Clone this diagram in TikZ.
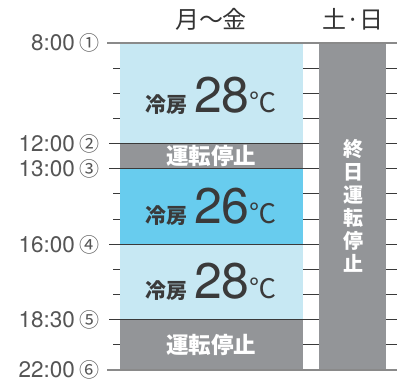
\documentclass[tikz,border=0pt]{standalone}
\usepackage{fontspec}
\setmainfont{TeX Gyre Heros}
\newfontfamily\jpfont{Noto Sans CJK JP}
\usetikzlibrary{positioning}

\definecolor{coolpale}{HTML}{C7E8F3}
\definecolor{coolmid}{HTML}{68CCEE}
\definecolor{offgray}{HTML}{939598}
\definecolor{labelgray}{HTML}{555555}
\definecolor{inkdark}{HTML}{3A3A3A}
\definecolor{rulegray}{HTML}{8A8A8A}

\begin{document}
\begin{tikzpicture}[
		x=1pt, y=-1pt,
		hourline/.style={
			draw=inkdark,
			line width=0.9pt
		},
		edgeline/.style={
			draw=rulegray,
			line width=2pt
		},
		timelabel/.style={
			anchor=base east,
			inner sep=0pt,
			text=labelgray,
			font=\fontsize{22.5}{22.5}\selectfont
		},
		headlabel/.style={
			inner sep=0pt,
			text=black!80,
			font=\jpfont\fontsize{24}{24}\selectfont
		},
		coollabel/.style={
			anchor=base,
			inner sep=0pt,
			text=inkdark
		},
		stoplabel/.style={
			inner sep=0pt,
			text=white,
			font=\jpfont\bfseries\fontsize{22.5}{22.5}\selectfont
		}
		]
		
		\useasboundingbox (0,0) rectangle (397,379);
		
		% row lines
		\foreach \k in {1,2,3,6,7,9,10,12}
			\draw[hourline] (113,{43+25.15*\k}) -- (397,{43+25.15*\k});
		\foreach \k in {4,5,8,11}
			\draw[hourline] (109,{43+25.15*\k}) -- (397,{43+25.15*\k});
		
		% weekday blocks
		\fill[coolpale] (120,43) rectangle (303,{43+25.15*4});
		\fill[offgray] (120,{43+25.15*4}) rectangle (303,{43+25.15*5});
		\fill[coolmid] (120,{43+25.15*5}) rectangle (303,{43+25.15*8});
		\fill[coolpale] (120,{43+25.15*8}) rectangle (303,{43+25.15*11});
		\fill[offgray] (120,{43+25.15*11}) rectangle (303,370);
		\foreach \k in {4,5,8,11}
			\draw[hourline] (120,{43+25.15*\k}) -- (303,{43+25.15*\k});
		
		% weekend block
		\fill[offgray] (319,43) rectangle (386,370);
		
		\draw[edgeline] (107,43) -- (397,43);
		\draw[edgeline] (107,370) -- (397,370);
		
		% headers
		\node[headlabel] (wkday) at (211,19) {月〜金};
		\node[headlabel] (wkend) at (353,19) {土·日};
		
		% times
		\node[timelabel] (t1) at (100,{43+8}) {8:00\hspace{5pt}{\jpfont\fontsize{20}{20}\selectfont ①}};
		\node[timelabel] (t2) at (100,{43+25.15*4+8}) {12:00\hspace{5pt}{\jpfont\fontsize{20}{20}\selectfont ②}};
		\node[timelabel] (t3) at (100,{43+25.15*5+8}) {13:00\hspace{5pt}{\jpfont\fontsize{20}{20}\selectfont ③}};
		\node[timelabel] (t4) at (100,{43+25.15*8+8}) {16:00\hspace{5pt}{\jpfont\fontsize{20}{20}\selectfont ④}};
		\node[timelabel] (t5) at (100,{43+25.15*11+8}) {18:30\hspace{5pt}{\jpfont\fontsize{20}{20}\selectfont ⑤}};
		\node[timelabel] (t6) at (100,{370+8}) {22:00\hspace{5pt}{\jpfont\fontsize{20}{20}\selectfont ⑥}};
		
		% block texts
		\node[coollabel] (cool1) at (211,113) {{\jpfont\bfseries\fontsize{21}{21}\selectfont 冷房}\hspace{7pt}{\fontsize{50}{50}\selectfont 28}{\jpfont\fontsize{27}{27}\selectfont ℃}};
		\node[coollabel] (cool2) at (211,224) {{\jpfont\bfseries\fontsize{21}{21}\selectfont 冷房}\hspace{7pt}{\fontsize{50}{50}\selectfont 26}{\jpfont\fontsize{27}{27}\selectfont ℃}};
		\node[coollabel] (cool3) at (211,299) {{\jpfont\bfseries\fontsize{21}{21}\selectfont 冷房}\hspace{7pt}{\fontsize{50}{50}\selectfont 28}{\jpfont\fontsize{27}{27}\selectfont ℃}};
		\node[stoplabel] (stop1) at (211,{43+25.15*4.5}) {運転停止};
		\node[stoplabel] (stop2) at (211,{43+25.15*12}) {運転停止};
		\node[stoplabel, align=center, font=\jpfont\bfseries\fontsize{20}{23}\selectfont] (stopall) at (353,206) {終\\日\\運\\転\\停\\止};
		
	\end{tikzpicture}
\end{document}
